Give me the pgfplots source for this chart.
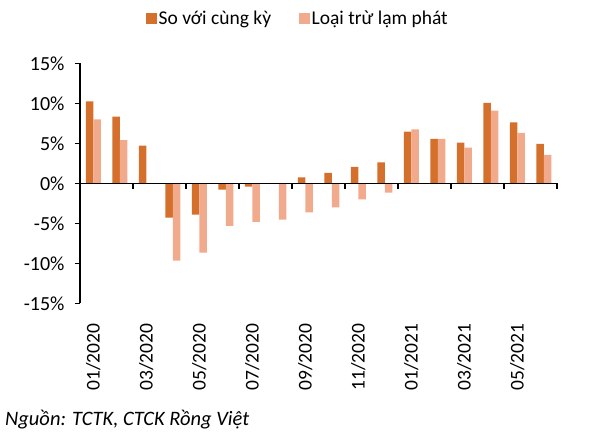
\documentclass[border=0pt]{standalone}
\usepackage{pgfplots}
\pgfplotsset{compat=1.18}
\usepackage{fontspec}
\setmainfont{Carlito}
\definecolor{cdark}{HTML}{D4702C}
\definecolor{clight}{HTML}{F2AA8D}
\begin{document}
\fontsize{19bp}{22bp}\selectfont
\begin{tikzpicture}
\useasboundingbox (0,0) rectangle (589bp,-437bp);
\begin{axis}[
  at={(80bp,-303.3bp)}, anchor=south west,
  scale only axis, width=477bp, height=240bp,
  xmin=-0.5, xmax=17.5, ymin=-15, ymax=15,
  axis lines*=left, axis line style={-, line width=1.2bp, black},
  x axis line style={draw=none},
  ybar=0pt, bar width=7.5bp,
  xtick={0,2,...,16},
  xticklabels={01/2020,03/2020,05/2020,07/2020,09/2020,11/2020,01/2021,03/2021,05/2021},
  x tick style={draw=none},
  xticklabel style={rotate=90, anchor=east, font=\fontsize{19.5bp}{22bp}\selectfont},
  xticklabel shift=9bp,
  ytick={-15,-10,...,15},
  yticklabels={-15\%,-10\%,-5\%,0\%,5\%,10\%,15\%},
  yticklabel style={font=\fontsize{20bp}{22bp}\selectfont, xshift=-4bp},
  tick align=outside, major tick length=5bp,
  y tick style={line width=1.2bp, black},
  legend columns=2,
  legend style={at={(0.457,1.185)}, anchor=center, draw=none, fill=none,
    font=\fontsize{19.5bp}{22bp}\selectfont,
    /tikz/every even column/.append style={column sep=26bp}},
  legend image code/.code={\fill[#1] (0bp,-5.5bp) rectangle (10.5bp,5.5bp);},
  clip=false,
]
\addplot[fill=cdark, draw=none] coordinates {
(0,10.25) (1,8.33) (2,4.7) (3,-4.3) (4,-3.9) (5,-0.8) (6,-0.4) (7,0)
(8,0.75) (9,1.3) (10,2.04) (11,2.63) (12,6.46) (13,5.54) (14,5.1)
(15,10.04) (16,7.63) (17,4.92)};
\addlegendentry{So với cùng kỳ}
\addplot[fill=clight, draw=none] coordinates {
(0,8.0) (1,5.4) (2,0) (3,-9.67) (4,-8.67) (5,-5.33) (6,-4.83) (7,-4.54)
(8,-3.63) (9,-3.0) (10,-2.0) (11,-1.17) (12,6.75) (13,5.54) (14,4.46)
(15,9.08) (16,6.29) (17,3.54)};
\addlegendentry{Loại trừ lạm phát}
\draw[line width=1.2bp, black] (axis cs:-0.5,0) -- (axis cs:17.5,0);
\pgfplotsinvokeforeach{1.5,3.5,5.5,7.5,9.5,11.5,13.5,15.5,17.5}{
  \draw[line width=1.2bp, black] (axis cs:#1,0) -- (axis cs:#1,-0.65);
}
\end{axis}
\node[anchor=west, font=\itshape\fontsize{20.5bp}{22bp}\selectfont, inner sep=0pt] at (5bp,-420bp) {Nguồn: TCTK, CTCK Rồng Việt};
\end{tikzpicture}
\end{document}
